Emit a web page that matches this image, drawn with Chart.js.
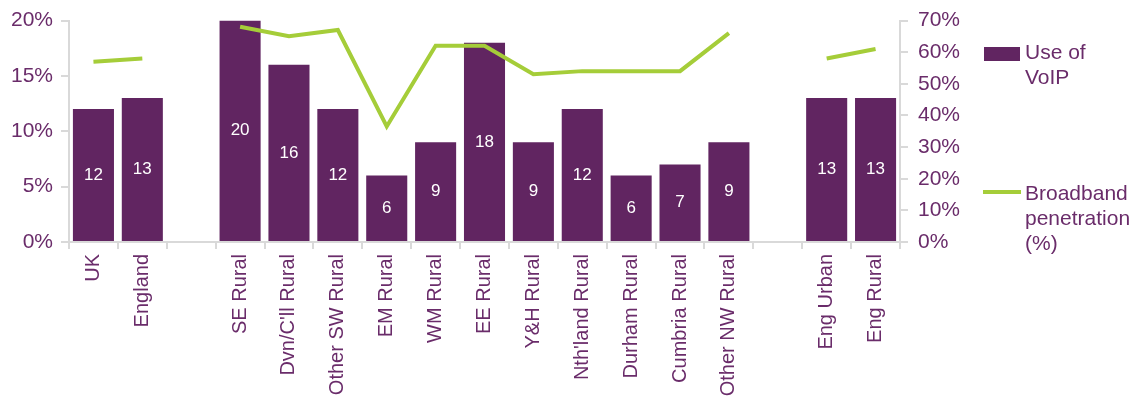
<!DOCTYPE html>
<html>
<head>
<meta charset="utf-8">
<script src="https://cdn.jsdelivr.net/npm/chart.js@4.4.1/dist/chart.umd.min.js"></script>
<style>
  html, body { margin: 0; padding: 0; background: #fff; }
  #wrap { width: 1138px; height: 401px; }
</style>
</head>
<body>
<div id="wrap"><canvas id="grafico"></canvas></div>
<script>
// categorias (los huecos son cadenas vacias)
const categorias = ["UK", "England", "", "SE Rural", "Dvn/C'll Rural", "Other SW Rural", "EM Rural", "WM Rural", "EE Rural", "Y&H Rural", "Nth'land Rural", "Durham Rural", "Cumbria Rural", "Other NW Rural", "", "Eng Urban", "Eng Rural"];
const usoVoip = [12, 13, null, 20, 16, 12, 6, 9, 18, 9, 12, 6, 7, 9, null, 13, 13];
const banda = [57, 58, null, 68, 65, 67, 36.5, 62, 62, 53, 54, 54, 54, 66, null, 58, 61];
const ticksIzq = [0, 5, 10, 15, 20];
const ticksDer = [0, 10, 20, 30, 40, 50, 60, 70];

const morado = "#612561";
const verde = "#a5cd39";
const textoColor = "#6a2c6a";
const gris = "#d9d9d9";
const fuente = "'Liberation Sans', Arial, sans-serif";

Chart.defaults.font.family = fuente;
Chart.defaults.color = textoColor;

// etiquetas blancas dentro de barras
const etiquetasBarras = {
  id: "etiquetasBarras",
  afterDatasetsDraw(chart) {
    const ctx = chart.ctx;
    const meta = chart.getDatasetMeta(1);
    ctx.save();
    ctx.fillStyle = "#ffffff";
    ctx.font = "17px " + fuente;
    ctx.textAlign = "center";
    ctx.textBaseline = "middle";
    meta.data.forEach((bar, i) => {
      const v = usoVoip[i];
      if (v == null) return;
      ctx.fillText(String(v), bar.x, (bar.y + bar.base) / 2);
    });
    ctx.restore();
  },
};

// leyenda a la derecha con texto en varias lineas
const leyenda = {
  id: "leyenda",
  afterDraw(chart) {
    const ctx = chart.ctx;
    ctx.save();
    ctx.font = "21px " + fuente;
    ctx.textBaseline = "middle";
    ctx.textAlign = "left";
    ctx.fillStyle = morado;
    ctx.fillRect(984, 47, 36, 14);
    ctx.fillStyle = textoColor;
    ctx.fillText("Use of", 1025, 53);
    ctx.fillText("VoIP", 1025, 78);
    ctx.strokeStyle = verde;
    ctx.lineWidth = 4;
    ctx.beginPath();
    ctx.moveTo(983, 192);
    ctx.lineTo(1021, 192);
    ctx.stroke();
    ctx.fillText("Broadband", 1025, 194);
    ctx.fillText("penetration", 1025, 219);
    ctx.fillText("(%)", 1025, 244);
    ctx.restore();
  },
};

const ctx = document.getElementById("grafico").getContext("2d");
new Chart(ctx, {
  data: {
    labels: categorias,
    datasets: [
      {
        type: "line",
        label: "Broadband penetration (%)",
        data: banda,
        yAxisID: "yDer",
        borderColor: verde,
        borderWidth: 4,
        pointRadius: 0,
        tension: 0,
        spanGaps: false,
        order: 0,
      },
      {
        type: "bar",
        label: "Use of VoIP",
        data: usoVoip,
        yAxisID: "yIzq",
        backgroundColor: morado,
        barPercentage: 0.84,
        categoryPercentage: 1,
        order: 1,
      },
    ],
  },
  options: {
    responsive: true,
    maintainAspectRatio: false,
    animation: false,
    layout: { padding: { top: 0, right: 163, left: 0, bottom: 0 } },
    plugins: { legend: { display: false }, tooltip: { enabled: false } },
    scales: {
      x: {
        offset: true,
        afterFit(axis) { axis.height = 159; },
        grid: { offset: true, drawOnChartArea: false, color: gris, tickLength: 7, lineWidth: 2 },
        border: { color: gris, width: 2 },
        ticks: { maxRotation: 90, minRotation: 90, autoSkip: false, font: { size: 20 }, padding: 5 },
      },
      yIzq: {
        position: "left",
        min: 0,
        max: 20,
        afterBuildTicks(axis) { axis.ticks = ticksIzq.map((v) => ({ value: v })); },
        afterFit(axis) { axis.width = 69; },
        grid: { drawOnChartArea: false, color: gris, tickLength: 8, lineWidth: 2 },
        border: { color: gris, width: 2 },
        ticks: { font: { size: 21, lineHeight: 1 }, padding: 8, callback: (v) => v + "%" },
      },
      yDer: {
        position: "right",
        min: 0,
        max: 70,
        afterBuildTicks(axis) { axis.ticks = ticksDer.map((v) => ({ value: v })); },
        afterFit(axis) { axis.width = 75; },
        grid: { drawOnChartArea: false, color: gris, tickLength: 8, lineWidth: 2 },
        border: { color: gris, width: 2 },
        ticks: { font: { size: 21, lineHeight: 1 }, padding: 10, callback: (v) => v + "%" },
      },
    },
  },
  plugins: [etiquetasBarras, leyenda],
});
</script>
</body>
</html>
